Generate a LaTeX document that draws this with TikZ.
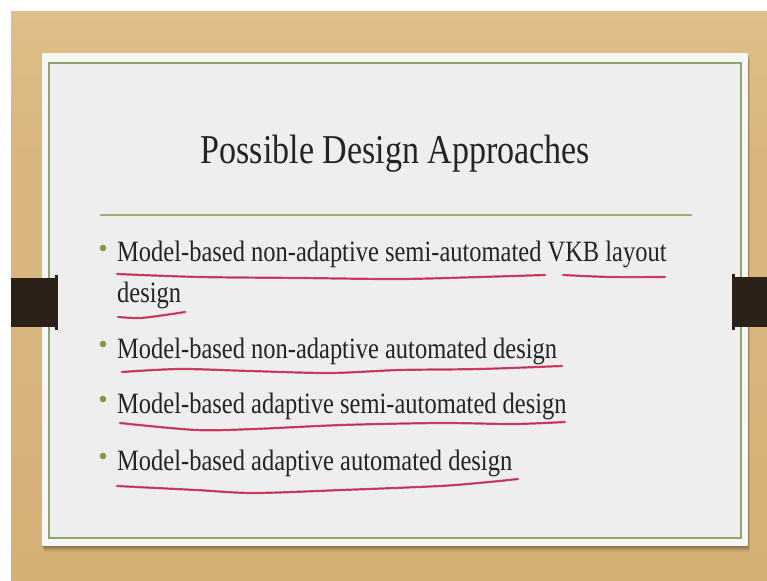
\documentclass[tikz,border=0pt]{standalone}
\usepackage{fontspec}
\newfontfamily\slidefont[FakeStretch=0.83]{Liberation Serif}
\definecolor{woodtop}{HTML}{E0BE89}
\definecolor{wood}{HTML}{DAB67E}
\definecolor{wooddark}{HTML}{D5AF74}
\definecolor{card}{HTML}{EEEEEE}
\definecolor{cardedge}{HTML}{F7F7F7}
\definecolor{frame}{HTML}{8FA66A}
\definecolor{rule}{HTML}{A2AE68}
\definecolor{dot}{HTML}{7D9B3A}
\definecolor{ink}{HTML}{D9446A}
\definecolor{inkcore}{HTML}{8E2443}
\definecolor{tab}{HTML}{2B2118}
\definecolor{textc}{HTML}{242424}
\tikzset{
  titletext/.style={inner sep=0pt, text=textc, font=\slidefont\fontsize{41}{48}\selectfont},
  itemtext/.style={inner sep=0pt, anchor=base west, text=textc, font=\slidefont\fontsize{29.5}{35}\selectfont},
  bulletdot/.style={fill=dot},
  pen/.style={draw=ink, line width=2.2pt, line cap=round, line join=round,
    postaction={draw=inkcore, line width=0.7pt, opacity=0.6}},
}
\begin{document}
\begin{tikzpicture}[x=1pt, y=-1pt]
  \useasboundingbox (0,0) rectangle (767,580);
  % page and wooden backdrop
  \fill[white] (0,0) rectangle (767,580);
  \shade[top color=woodtop, bottom color=wood, middle color=wood] (11,12) rectangle (767,300);
  \shade[top color=wood, bottom color=wooddark] (11,300) rectangle (767,580);

  % card shadow
  \foreach \d/\o in {1/0.10, 2/0.08, 3/0.07, 4/0.06, 5/0.05, 6/0.04} {
    \fill[black, opacity=\o] (42+\d*0.3,53+\d) rectangle (748+\d*0.3,546+\d);
  }
  % card with inner frame
  \fill[cardedge] (42,53) rectangle (748,546);
  \fill[card] (49,63) rectangle (741,538);
  \draw[frame, line width=1.8pt] (49,63) rectangle (741,538);

  % side tabs
  \fill[tab] (11,278) rectangle (56,327);
  \fill[tab] (55,275) rectangle (58,330);
  \fill[tab] (734,277) rectangle (767,327);
  \fill[tab] (732,274) rectangle (735,330);

  % title and rule
  \node[titletext, anchor=base] (title) at (395.5,164) {Possible Design Approaches};
  \draw[rule, line width=1.6pt] (100,215) -- (692,215);

  % bullet points
  \fill[bulletdot] (103,248) circle[radius=3.3pt];
  \fill[bulletdot] (103,344) circle[radius=3.3pt];
  \fill[bulletdot] (103,399) circle[radius=3.3pt];
  \fill[bulletdot] (103,456) circle[radius=3.3pt];

  \node[itemtext] (i1) at (117,261) {Model-based non-adaptive semi-automated VKB layout};
  \node[itemtext] (i1b) at (117,302) {design};
  \node[itemtext] (i2) at (117,358) {Model-based non-adaptive automated design};
  \node[itemtext] (i3) at (117,413) {Model-based adaptive semi-automated design};
  \node[itemtext] (i4) at (117,470) {Model-based adaptive automated design};

  % hand-drawn underlines
  \draw[pen] plot[smooth] coordinates {(117,274) (200,277) (300,278) (400,279) (480,277) (545,275)};
  \draw[pen] plot[smooth] coordinates {(563,275) (610,277) (665,277)};
  \draw[pen] plot[smooth] coordinates {(118,317) (140,318) (165,315) (185,312)};
  \draw[pen] plot[smooth] coordinates {(122,372) (180,369) (250,371) (330,373) (400,370) (480,369) (562,366)};
  \draw[pen] plot[smooth] coordinates {(120,423) (196,430) (254,429) (342,425) (440,423) (514,424) (565,422)};
  \draw[pen] plot[smooth] coordinates {(117,486) (196,490) (254,493) (342,490) (440,486) (489,482) (518,479)};
\end{tikzpicture}
\end{document}
